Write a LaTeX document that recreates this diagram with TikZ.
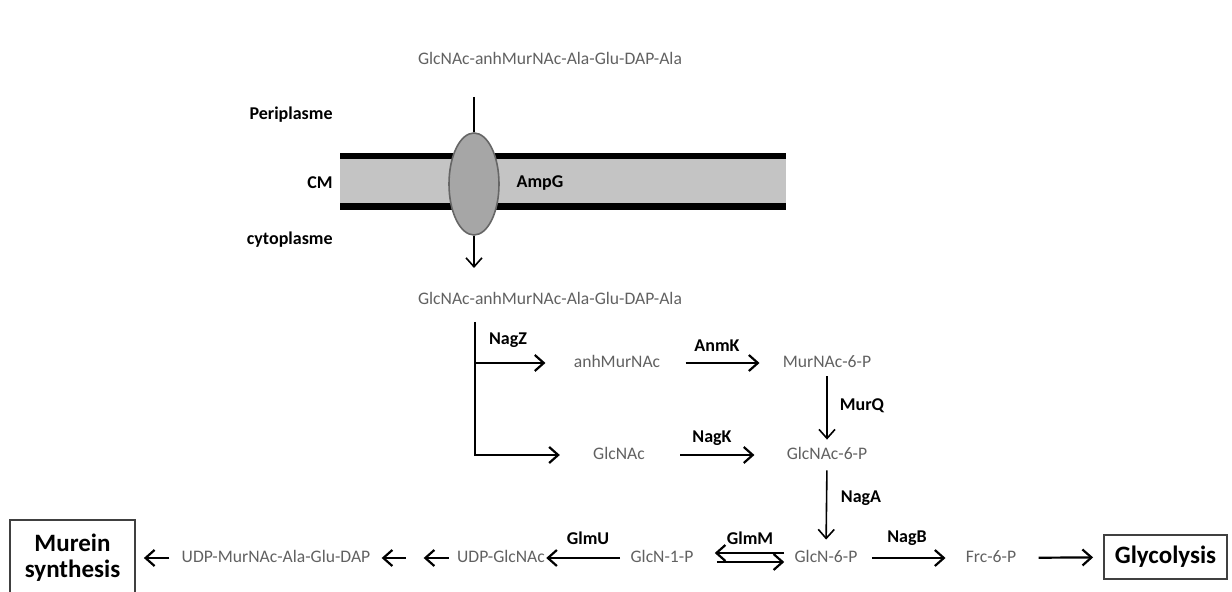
\documentclass[tikz,border=0pt]{standalone}
\usepackage{fontspec}
\setmainfont{Carlito}
\usetikzlibrary{arrows.meta,shapes.geometric}

\begin{document}
\begin{tikzpicture}[x=0.5pt, y=-0.5pt, >={Straight Barb[length=4.5pt,width=8pt]},
    met/.style={text=black!62, font=\fontsize{8.8}{10}\selectfont, inner sep=0pt, text height=6.5pt, text depth=1.5pt},
    enz/.style={font=\fontsize{9}{10}\bfseries\selectfont, inner sep=0pt},
    rxn/.style={->, line width=1.1pt},
    vrx/.style={->, line width=0.8pt},
    endbox/.style={draw=black!75, line width=0.9pt, font=\fontsize{12.5}{13}\bfseries\selectfont, align=center, inner sep=0pt}]
    \useasboundingbox (0,0) rectangle (1232,592);

    % membrane
    \fill[black!23] (340,156) rectangle (786,206);
    \draw[line width=3.2pt] (340,156) -- (786,156);
    \draw[line width=3.5pt] (340,206.5) -- (786,206.5);
    \node[enz, anchor=east] (peri) at (333,115) {Periplasme};
    \node[enz, anchor=east] (cm) at (333,183) {CM};
    \node[enz, anchor=east] (cyto) at (333,240) {cytoplasme};
    \node[enz] (ampgl) at (540,183) {AmpG};
    \node[ellipse, draw=black!60, fill=black!35, line width=0.8pt, minimum width=25pt, minimum height=51pt, inner sep=0pt] (ampg) at (474,184) {};

    % transport
    \node[met] (pgOut) at (550,60) {GlcNAc-anhMurNAc-Ala-Glu-DAP-Ala};
    \node[met] (pgIn) at (550,300) {GlcNAc-anhMurNAc-Ala-Glu-DAP-Ala};
    \coordinate (tIn) at (474,97);
    \coordinate (tOut) at (474,268);
    \draw[line width=0.8pt] (tIn) -- (ampg.north);
    \draw[vrx] (ampg.south) -- (tOut);

    % recycling
    \node[met] (anh) at (617,363) {anhMurNAc};
    \node[met] (mur6p) at (827,363) {MurNAc-6-P};
    \node[met] (glcnac) at (619,455) {GlcNAc};
    \node[met] (glcnac6p) at (827,455) {GlcNAc-6-P};
    \node[met] (glcn6p) at (826,558) {GlcN-6-P};
    \node[met] (glcn1p) at (662,558) {GlcN-1-P};
    \node[met] (udpglc) at (501,558) {UDP-GlcNAc};
    \node[met] (udpmur) at (276,558) {UDP-MurNAc-Ala-Glu-DAP};
    \node[met] (frc) at (991,558) {Frc-6-P};
    \node[endbox, minimum width=62.5pt, minimum height=38pt] (murein) at (72.5,558) {Murein\\synthesis};
    \node[endbox, minimum width=61.5pt, minimum height=22pt] (glyco) at (1165.5,557) {Glycolysis};

    \coordinate (fork) at (475,322);
    \draw[rxn, shorten >=16.5pt] (fork) |- (glcnac);
    \draw[rxn, shorten >=14pt] (fork |- anh) -- (anh);
    \draw[rxn, shorten <=12.5pt, shorten >=11.5pt] (anh) -- (mur6p);
    \draw[rxn, shorten <=17.5pt, shorten >=16pt] (glcnac) -- (glcnac6p);
    \draw[vrx, shorten <=2.5pt, shorten >=3.5pt] (mur6p.south) -- (glcnac6p.north);
    \draw[vrx, shorten <=3.5pt, shorten >=5pt] (glcnac6p.south) -- (glcn6p.north);

    \draw[rxn, shorten <=7pt, shorten >=10pt] (glcn6p) -- (frc);
    \draw[rxn, shorten <=11pt, shorten >=5pt] (frc) -- (glyco);
    \draw[rxn, shorten <=5pt, shorten >=10.5pt] ([yshift=2.5pt]glcn6p.west) -- ([yshift=2.5pt]glcn1p.east);
    \draw[rxn, shorten <=11.5pt, shorten >=5pt] ([yshift=-2pt]glcn1p.east) -- ([yshift=-2pt]glcn6p.west);
    \draw[rxn, shorten <=5pt, shorten >=0.5pt] (glcn1p) -- (udpglc);
    \draw[rxn, shorten <=4pt, shorten >=26.5pt] (udpglc) -- (udpmur);
    \draw[rxn, shorten <=25.5pt, shorten >=5.5pt] (udpglc) -- (udpmur);
    \draw[rxn, shorten <=6pt, shorten >=4pt] (udpmur) -- (murein);

    % enzymes
    \node[enz] (nagz) at (508,340) {NagZ};
    \node[enz] (anmk) at (717,346) {AnmK};
    \node[enz] (murq) at (862,406) {MurQ};
    \node[enz] (nagk) at (712,438) {NagK};
    \node[enz] (naga) at (861,498) {NagA};
    \node[enz] (glmu) at (588,538) {GlmU};
    \node[enz] (glmm) at (750,538) {GlmM};
    \node[enz] (nagb) at (907,538) {NagB};
\end{tikzpicture}
\end{document}
